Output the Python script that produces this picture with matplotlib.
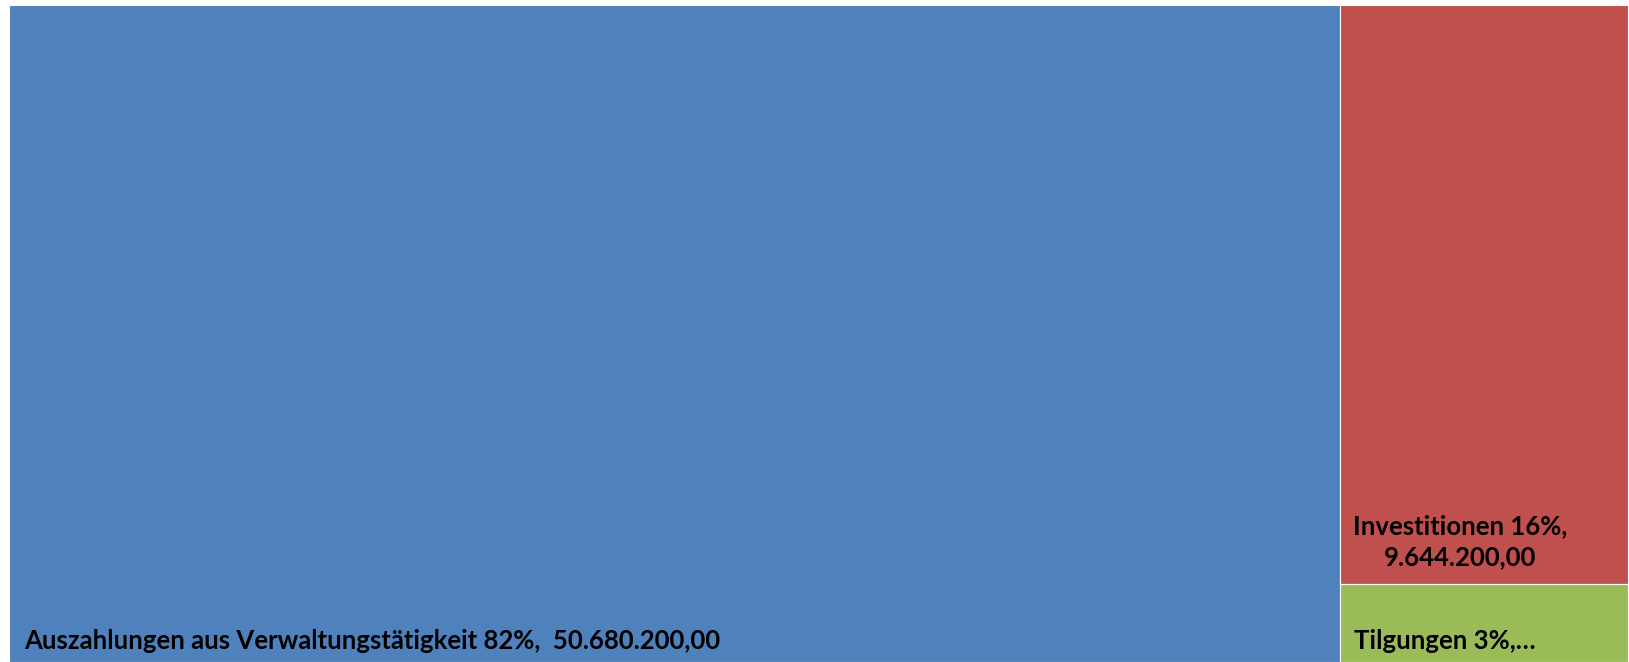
import matplotlib as mpl
mpl.use('Agg')
from matplotlib import pyplot as plt
from matplotlib.patches import Rectangle

# data
labels = ['Auszahlungen aus Verwaltungstätigkeit 82%,  50.680.200,00',
          'Investitionen 16%,\n9.644.200,00',
          'Tilgungen 3%,…']
values = [50680200.00, 9644200.00, 1300000.00]
colors = ['#4F81BD', '#C0504D', '#9BBB59']

plt.rcParams['font.family'] = ['Lato', 'DejaVu Sans']

W, H = 1629, 662
fig = plt.figure(figsize=(W/100, H/100), dpi=100)
ax = fig.add_axes([9/W, 0, (1628-9)/W, (662-5)/H])
ax.set_xlim(0, 1)
ax.set_ylim(0, 1)
ax.axis('off')

total = sum(values)
fx = values[0]/total
rest = values[1] + values[2]
fg = values[2]/rest

rects = [(0, 0, fx, 1),
         (fx, fg, 1-fx, 1-fg),
         (fx, 0, 1-fx, fg)]

for (x, y, w, h), c in zip(rects, colors):
    ax.add_patch(Rectangle((x, y), w, h, facecolor=c, edgecolor='white', linewidth=0.8))

pt = 0.72  # px -> pt at dpi 100
sz = 18.5
# blue label
ax.annotate(labels[0], xy=(0, 0), xytext=(15*pt, 21*pt), textcoords='offset points',
            ha='left', va='center', fontsize=sz, fontweight='bold', color='black')
# red label (two lines, centred)
ax.annotate(labels[1], xy=(fx, fg), xytext=(120*pt, 42*pt), textcoords='offset points',
            ha='center', va='center', fontsize=sz, fontweight='bold', color='black',
            multialignment='center', linespacing=1.35)
# green label
ax.annotate(labels[2], xy=(fx, 0), xytext=(14*pt, 21*pt), textcoords='offset points',
            ha='left', va='center', fontsize=sz, fontweight='bold', color='black')

plt.savefig('out.png', dpi=100, facecolor='white')
plt.close()
